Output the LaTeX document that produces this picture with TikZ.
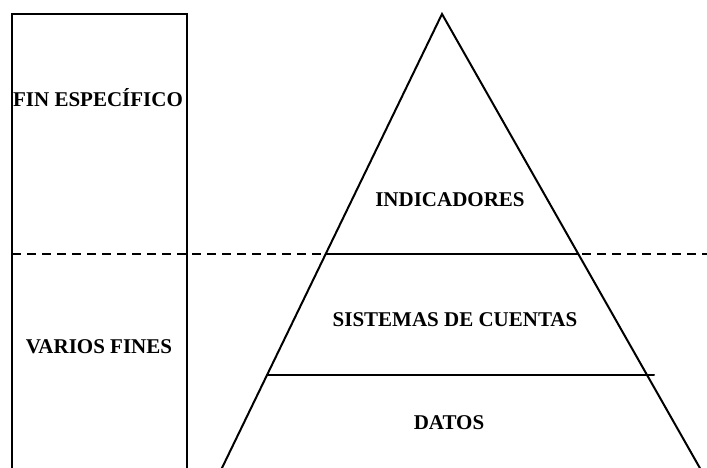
\documentclass[tikz,border=0pt]{standalone}
\usepackage{fontspec}
\setmainfont{Liberation Serif}
\begin{document}
\begin{tikzpicture}[x=1pt,y=-1pt,
  edge/.style={line width=2pt,line cap=round},
  sep/.style={line width=1.8pt,dash pattern=on 9pt off 6pt},
  lbl/.style={font=\fontsize{21}{24}\selectfont\bfseries,anchor=base,inner sep=0pt}]
\useasboundingbox (0,0) rectangle (707,467);
% coordinates
\coordinate (rbl) at (12,470);
\coordinate (rtl) at (12,14);
\coordinate (rtr) at (187,14);
\coordinate (rbr) at (187,470);
\coordinate (apex) at (442,14);
\coordinate (tbl) at (221,470);
\coordinate (tbr) at (701,470);
\coordinate (dl) at (12,254);
\coordinate (dr) at (707,254);
\coordinate (m1l) at (326,254);
\coordinate (m1r) at (578,254);
\coordinate (m2l) at (267,375);
\coordinate (m2r) at (654,375);
% frame
\draw[edge] (rbl) -- (rtl) -- (rtr) -- (rbr);
% dashed separator
\draw[sep] (dl) -- (dr);
% pyramid
\draw[edge] (tbl) -- (apex) -- (tbr);
\draw[edge] (m1l) -- (m1r);
\draw[edge] (m2l) -- (m2r);
% labels
\node[lbl] (fin) at (98,106) {FIN ESPECÍFICO};
\node[lbl] (varios) at (99,353) {VARIOS FINES};
\node[lbl] (ind) at (450,206) {INDICADORES};
\node[lbl] (sis) at (455,326) {SISTEMAS DE CUENTAS};
\node[lbl] (dat) at (449,429) {DATOS};
\end{tikzpicture}
\end{document}
